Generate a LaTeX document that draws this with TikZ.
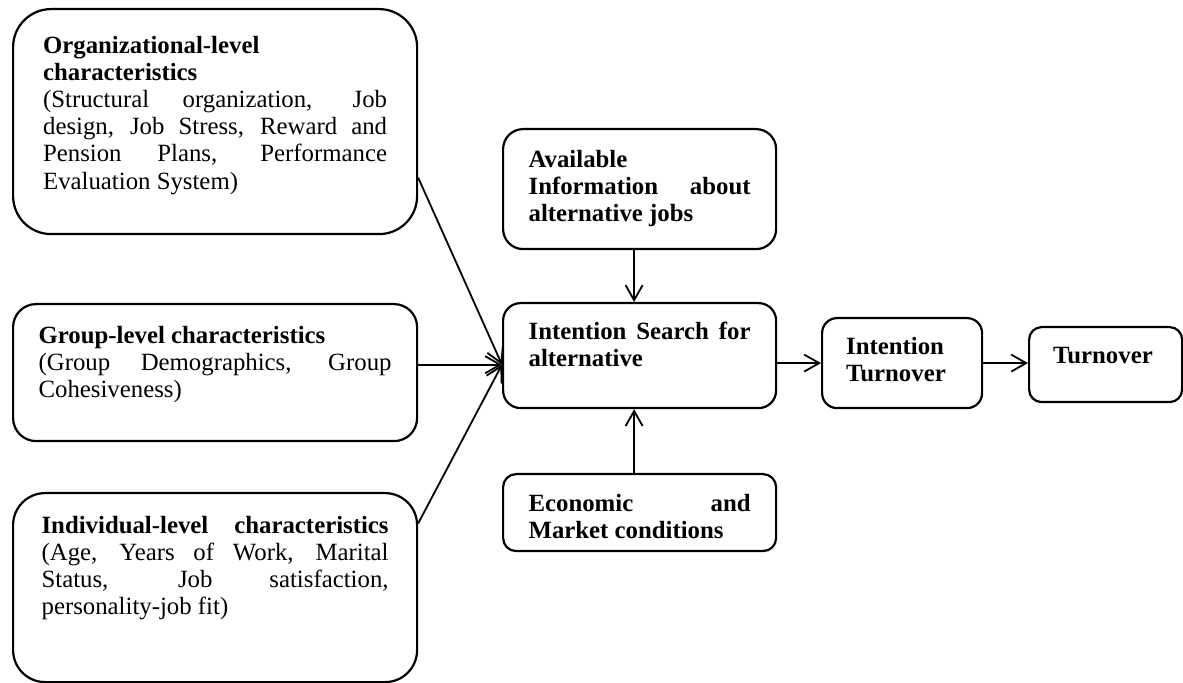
\documentclass[tikz,border=0pt]{standalone}
\usepackage{fontspec}
\setmainfont{Liberation Serif}
\usepackage{tikz}
\usetikzlibrary{calc}
\usetikzlibrary{arrows.meta}
\usetikzlibrary{positioning}
\tolerance=10000
\hyphenpenalty=10000

\tikzset{
  blk/.style={draw, line width=1.1pt, anchor=north west, inner ysep=0pt, align=justify,
              font=\fontsize{12.4}{13.6}\selectfont},
  bfblk/.style={blk, font=\fontsize{12.4}{13.6}\selectfont\bfseries},
  lnk/.style={line width=0.9pt, -{Straight Barb[length=7.5pt,width=8.5pt]}},
}

\begin{document}
\begin{tikzpicture}[x=0.5pt, y=-0.5pt]
            \useasboundingbox (0,0) rectangle (1183,683);
            \node[blk,   rounded corners=19pt,   inner xsep=15pt,    text width=172pt,   text height=22pt,   text depth=90.5pt] (org)    at (12,8)
                 {\textbf{Organizational-level}\newline \textbf{characteristics}\newline (Structural organization, Job\linebreak design, Job Stress, Reward and\linebreak Pension Plans, Performance\linebreak Evaluation System)};
            \node[blk,   rounded corners=11.5pt, inner xsep=12.75pt, text width=176.5pt, text height=19.5pt, text depth=49pt]   (grp)    at (12,303)
                 {\textbf{Group-level characteristics}\newline (Group Demographics, Group\linebreak Cohesiveness)};
            \node[blk,   rounded corners=16pt,   inner xsep=14.25pt, text width=173.5pt, text height=20pt,   text depth=74.5pt] (ind)    at (12,492)
                 {\textbf{Individual-level characteristics}\linebreak (Age, Years of Work, Marital\linebreak Status, Job satisfaction,\linebreak personality-job fit)};
            \node[bfblk, rounded corners=10pt,   inner xsep=12.75pt, text width=111pt,   text height=19pt,   text depth=41pt]   (avail)  at (502,128)
                 {Available\newline Information about\linebreak alternative jobs};
            \node[bfblk, rounded corners=8.75pt, inner xsep=12.75pt, text width=111pt,   text height=18pt,   text depth=34.5pt] (search) at (502,302)
                 {Intention Search for\linebreak alternative};
            \node[bfblk, rounded corners=6.5pt,  inner xsep=12.75pt, text width=111pt,   text height=18.5pt, text depth=20pt]   (econ)   at (502,473)
                 {Economic and\linebreak Market conditions};
            \node[bfblk, rounded corners=7.5pt,  inner xsep=12pt,    text width=56pt,    text height=18pt,   text depth=27pt, align=left] (it) at (821,317)
                 {Intention\newline Turnover};
            \node[bfblk, rounded corners=6.25pt, inner xsep=12pt,    text width=52.5pt,  text height=18pt,   text depth=19.5pt, align=left] (turn) at (1028,326)
                 {Turnover};
            \coordinate (hub) at ($(search.north west)!0.585!(search.south west)$);
            \draw[lnk] ($(org.north east)!0.747!(org.south east)$) -- (hub);
            \draw[lnk] (grp.east |- hub) -- (hub);
            \draw[lnk] ($(ind.north east)!0.164!(ind.south east)$) -- (hub);
            \draw[lnk] ([xshift=-2.75pt]avail.south) -- ([xshift=-2.75pt]search.north);
            \draw[lnk] ([xshift=-2.75pt]econ.north) -- ([xshift=-2.75pt]search.south);
            \draw[lnk] (search.east |- it.west) -- (it.west);
            \draw[lnk] (it.east) -- (it.east -| turn.west);
            \end{tikzpicture}
\end{document}
